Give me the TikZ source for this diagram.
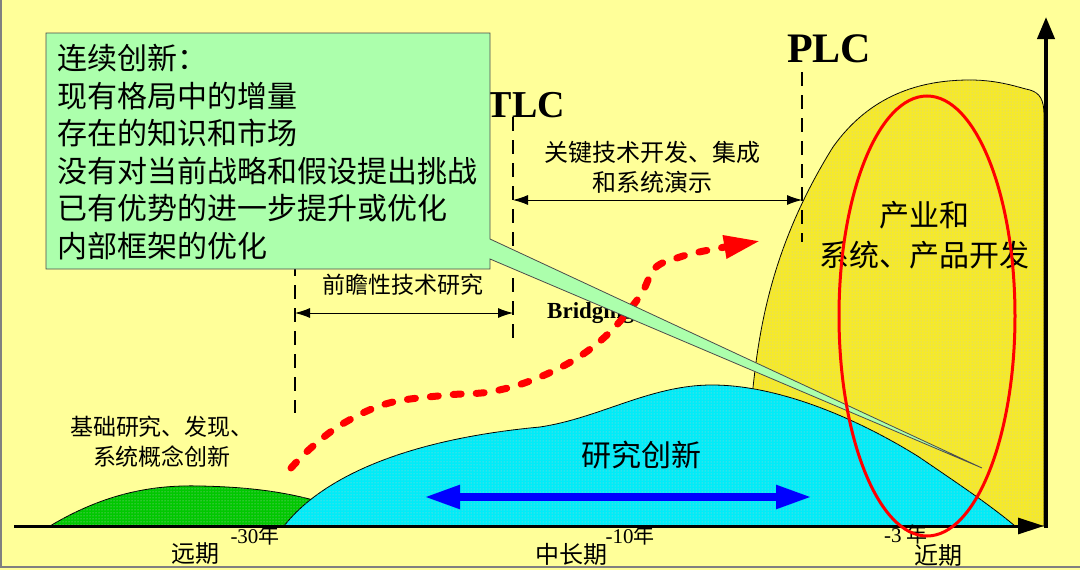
\documentclass[tikz,border=0pt]{standalone}
\usepackage{fontspec}
\setmainfont{Liberation Serif}
\newfontfamily\cjk{Noto Sans CJK SC}
\usepackage{tikz}
\usetikzlibrary{arrows.meta,patterns,positioning}
\definecolor{bgyellow}{RGB}{255,255,153}
\definecolor{hillgreen}{RGB}{0,200,0}
\definecolor{hillcyan}{RGB}{0,236,248}
\definecolor{hillyellow}{RGB}{246,234,40}
\definecolor{notegreen}{RGB}{172,255,172}
\tikzset{
  hill/.style={draw=black,line width=0.8pt,postaction={pattern=dots,pattern color=black!22}},
  phase/.style={dash pattern=on 14pt off 9pt,line width=1.6pt},
  span/.style={{Latex[length=15pt,width=10pt]}-{Latex[length=15pt,width=10pt]},line width=0.9pt},
  cn/.style 2 args={font={\cjk\fontsize{#1}{#2}\selectfont},inner sep=0pt},
  lc/.style={font={\bfseries\fontsize{#1}{#1}\selectfont},inner sep=0pt},
  yr/.style={font={\fontsize{21}{21}\selectfont},inner sep=0pt}
}
\begin{document}
\begin{tikzpicture}[x=1pt,y=-1pt]
\useasboundingbox (0,0) rectangle (1080,570);
\fill[bgyellow] (0,0) rectangle (1080,570);
\draw[gray,line width=2pt] (1,0) -- (1,567) -- (1080,567);

% hills
\path[hill,fill=hillyellow] (745,526) -- (753,388) .. controls (760,320) and (775,240) .. (833,147)
  .. controls (870,95) and (920,80) .. (970,80) .. controls (1000,80) and (1020,88) .. (1030,90)
  .. controls (1040,93) and (1044,100) .. (1044,115) -- (1044,526) -- cycle;
\path[hill,fill=hillgreen] (50,526) .. controls (110,490) and (160,485) .. (200,486)
  .. controls (250,487) and (290,492) .. (330,505) -- (330,526) -- cycle;
\path[hill,fill=hillcyan] (284,526) .. controls (320,480) and (400,440) .. (540,427)
  .. controls (600,418) and (650,385) .. (712,385) .. controls (780,385) and (860,420) .. (919,457)
  .. controls (960,485) and (990,505) .. (1015,526) -- cycle;

% axes
\coordinate (o) at (14,526);
\coordinate (xend) at (1044,526);
\coordinate (ybot) at (1046,528);
\coordinate (ytop) at (1046,17);
\draw[line width=3pt,-{Triangle[length=26pt,width=16pt]}] (o) -- (xend);
\draw[line width=4pt,-{Triangle[length=22pt,width=17pt]}] (ybot) -- (ytop);

% phases
\coordinate (ft-top) at (295,262);
\coordinate (ft-bot) at (295,413);
\coordinate (tlc-top) at (513,117);
\coordinate (tlc-bot) at (513,343);
\coordinate (plc-top) at (802,72);
\coordinate (plc-bot) at (802,242);
\draw[phase] (ft-top) -- (ft-bot);
\draw[phase] (tlc-top) -- (tlc-bot);
\draw[phase] (plc-top) -- (plc-bot);
\coordinate (ft-l) at (295,313);
\coordinate (ft-r) at (513,313);
\coordinate (kt-l) at (513,200);
\coordinate (kt-r) at (802,200);
\draw[span] (ft-l) -- (ft-r);
\draw[span] (kt-l) -- (kt-r);

\node[lc=38] (tlc) at (526,105) {TLC};
\node[lc=42] (plc) at (829,49) {PLC};
\node[cn={23}{30}] (ft) at (403,285) {前瞻性技术研究};
\node[cn={24}{30},align=center] (kt) at (652,167) {关键技术开发、集成\\和系统演示};
\node[lc=23,anchor=base west] (bridge) at (547,318) {Bridging};
\node[cn={23}{30},align=center] (basic) at (162,442) {基础研究、发现、\\系统概念创新};
\node[cn={30}{40},align=center] (ind) at (924,235) {产业和\\系统、产品开发};
\node[cn={30}{30}] (res) at (641,455) {研究创新};

% time axis
\node[cn={24}{24}] (far) at (195,554) {远期};
\node[cn={24}{24}] (mid) at (571,554) {中长期};
\node[cn={24}{24}] (near) at (938,555) {近期};
\node[yr] (y30) at (255,535) {-30{\cjk 年}};
\node[yr] (y10) at (630,535) {-10{\cjk 年}};
\node[yr] (y3) at (906,534) {-3 {\cjk 年}};

% arrows
\coordinate (b-l) at (424,497);
\coordinate (b-r) at (812,497);
\draw[blue,line width=8pt,{Triangle[length=36pt,width=22pt]}-{Triangle[length=36pt,width=22pt]}] (b-l) -- (b-r);
\draw[red,line width=7pt,dash pattern=on 8pt off 15pt,line cap=round,-{Triangle[length=36pt,width=22pt]}]
  plot[smooth,tension=0.6] coordinates {(291,468) (312,447) (344,423) (389,403) (448,395) (489,392)
  (530,381) (574,360) (609,333) (640,296) (655,268) (680,257) (709,250) (760,241)};

% callout
\coordinate (tip) at (982,468);
\draw[fill=notegreen,draw=black!70,line width=0.8pt] (46,33) -- (490,33) -- (490,239) -- (tip)
  -- (490,259) -- (490,269) -- (46,269) -- cycle;
\node[cn={30}{37.5},align=left,anchor=north west] (note) at (57,44)
  {连续创新：\\现有格局中的增量\\存在的知识和市场\\没有对当前战略和假设提出挑战\\已有优势的进一步提升或优化\\内部框架的优化};

\draw[red,line width=3pt] (927,316) ellipse [x radius=88pt,y radius=220pt];
\end{tikzpicture}
\end{document}
